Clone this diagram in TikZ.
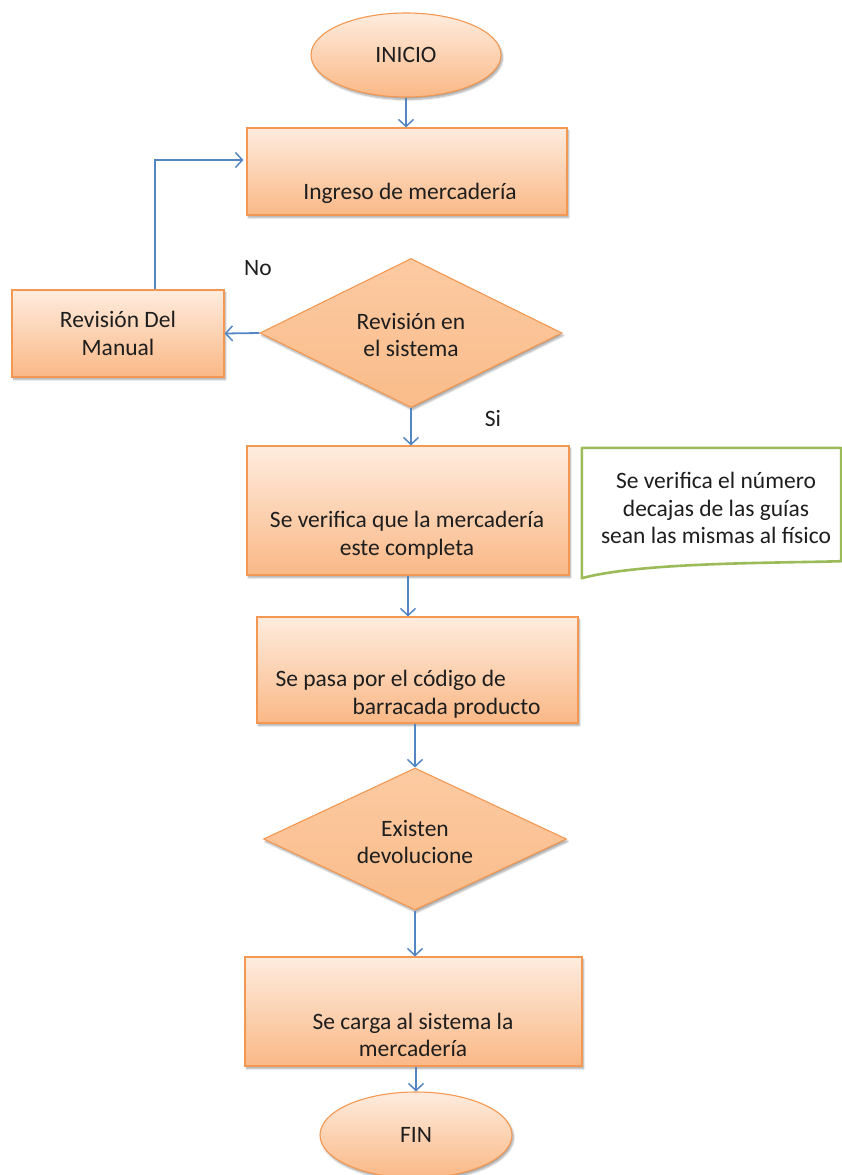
\documentclass[tikz,border=0pt]{standalone}
\usepackage{fontspec}
\setmainfont{Carlito}
\usetikzlibrary{shapes.geometric,arrows.meta,shadows.blur}
\definecolor{boxtop}{RGB}{254,236,222}
\definecolor{boxbot}{RGB}{250,184,134}
\definecolor{dectop}{RGB}{252,202,162}
\definecolor{decbot}{RGB}{250,188,138}
\definecolor{boxline}{RGB}{242,152,82}
\definecolor{flow}{RGB}{84,134,194}
\definecolor{notegreen}{RGB}{155,187,89}
\definecolor{ink}{RGB}{30,30,30}
\tikzset{
  base/.style={draw=boxline, line width=1.1pt, inner sep=0pt, text=ink,
    font=\fontsize{23.5}{27.5}\selectfont, align=center,
    blur shadow={shadow xshift=1.5pt, shadow yshift=-2.5pt, shadow blur steps=6, shadow opacity=35}},
  proc/.style={base, rectangle, top color=boxtop, bottom color=boxbot},
  term/.style={base, ellipse, top color=boxtop, bottom color=boxbot},
  dec/.style={base, diamond, top color=dectop, bottom color=decbot},
  txt/.style={text=ink, font=\fontsize{23.5}{27.5}\selectfont, align=center, inner sep=0pt},
  arr/.style={draw=flow, line width=1.8pt, -{Straight Barb[length=7pt,width=15pt,line width=1.5pt]}}
}
\begin{document}
\begin{tikzpicture}[x=1pt,y=-1pt]
\useasboundingbox (0,0) rectangle (841,1175);

% terminals, processes and decisions
\node[term, minimum width=190pt, minimum height=84pt] (inicio) at (406,55) {INICIO};
\node[proc, minimum width=320pt, minimum height=87pt] (ingreso) at (407,171.5) {};
\node[txt] (ingresotxt) at (410,193) {Ingreso de mercadería};

\node[proc, minimum width=212pt, minimum height=87pt] (manual) at (118,333.5) {Revisión Del\\Manual};
\node[dec, minimum width=302pt, minimum height=149pt] (revsis) at (411,333) {};
\node[txt] (revsistxt) at (411,335) {Revisión en\\el sistema};

\node[proc, minimum width=322pt, minimum height=129pt] (verifica) at (408,510.5) {};
\node[txt] (verificatxt) at (407,535) {Se verifica que la mercadería\\este completa};

\node[proc, minimum width=321pt, minimum height=106pt] (codigo) at (417.5,670) {};
\node[txt, align=left] (codigotxt) at (408,694) {Se pasa por el código de\\\hspace*{77pt}barracada producto};

\node[dec, minimum width=303pt, minimum height=142pt] (devol) at (415,839) {};
\node[txt] (devoltxt) at (415,842) {Existen\\devolucione};

\node[proc, minimum width=337pt, minimum height=109pt] (carga) at (413.5,1011.5) {};
\node[txt] (cargatxt) at (413,1035) {Se carga al sistema la\\mercadería};

\node[term, minimum width=192pt, minimum height=86pt] (fin) at (416,1135) {FIN};

% branch labels
\node[txt] (no) at (258,268) {No};
\node[txt] (si) at (493,418) {Si};

% annotation (document shape)
\node[minimum width=259pt, minimum height=113pt, inner sep=0pt] (doc) at (711.5,504.5) {};
\draw[notegreen, line width=2.6pt, fill=white, line join=round]
  (doc.north west) -- (doc.north east) -- (doc.south east)
  .. controls +(-70,2) and +(60,-16) .. ([yshift=-17pt]doc.south west) -- cycle;
\node[txt] (doctxt) at (716,508) {Se verifica el número\\decajas de las guías\\sean las mismas al físico};

% connectors
\draw[arr] (inicio.south) -- (inicio.south |- ingreso.north);
\draw[arr] ([xshift=37pt]manual.north) |- ([yshift=11.5pt, xshift=-3pt]ingreso.west);
\draw[arr] (revsis.west) -- (manual.east);
\draw[arr] (revsis.south) -- (revsis.south |- verifica.north);
\draw[arr] (verifica.south) -- (verifica.south |- codigo.north);
\draw[arr] (devol.north |- codigo.south) -- (devol.north);
\draw[arr] (devol.south) -- (devol.south |- carga.north);
\draw[arr] (fin.north |- carga.south) -- (fin.north);
\end{tikzpicture}
\end{document}
